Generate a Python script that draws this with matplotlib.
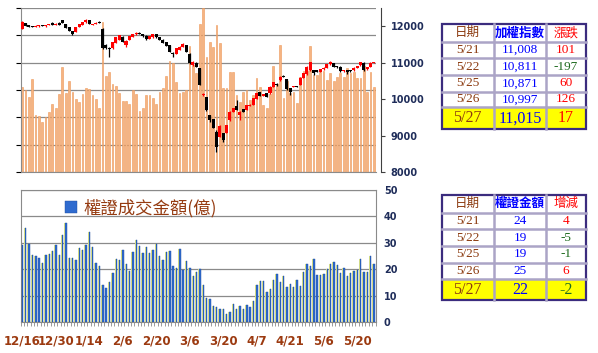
import numpy as np
import matplotlib.pyplot as plt
from matplotlib.patches import Rectangle
from matplotlib.lines import Line2D

plt.rcParams['font.family'] = ['DejaVu Sans']
CJK = ['Noto Sans CJK TC', 'DejaVu Sans']
SERIF = ['Liberation Serif', 'Noto Sans CJK TC']

# x axis labels (every 10 sessions)
tick_pos = [0, 10, 20, 30, 40, 50, 60, 70, 80, 90, 100]
tick_lab = ['12/16', '12/30', '1/14', '2/6', '2/20', '3/6', '3/20', '4/7', '4/21', '5/6', '5/20']

# TAIEX turnover (億), orange bars in the top panel
tw_vol = [1561, 1500, 1378, 1701, 1043, 1030, 909, 1006, 1092, 1250,
          1177, 1433, 1927, 1445, 1665, 1470, 1329, 1281, 1421, 1531,
          1518, 1409, 1329, 1165, 2750, 1763, 1836, 1610, 1573, 1451,
          1299, 1305, 1238, 1494, 1421, 1116, 1165, 1409, 1409, 1348,
          1244, 1470, 1531, 1762, 2031, 2000, 1640, 1439, 1470, 1500,
          2311, 1957, 1805, 2701, 2994, 2110, 2372, 2281, 2689, 2354,
          1531, 1543, 1836, 1836, 1409, 1287, 1470, 1500, 1317, 1409,
          1726, 1561, 1226, 1165, 1421, 1939, 1604, 2323, 1360, 1665,
          1439, 1457, 1256, 1744, 1848, 1848, 2311, 1774, 1774, 1835,
          1848, 1683, 1805, 1665, 1744, 1805, 1744, 1909, 1805, 1835,
          1726, 1726, 1945, 1470, 1835, 1561]

# TAIEX daily candles
idx_open = [11936, 12092, 12028, 12005, 11990, 12000, 12030, 12000, 12040, 12100,
            12030, 12100, 12165, 12055, 11970, 11870, 11845, 11980, 12040, 12110,
            12160, 12030, 12060, 12120, 11936, 11480, 11400, 11390, 11540, 11620,
            11710, 11480, 11620, 11710, 11780, 11820, 11790, 11740, 11650, 11700,
            11790, 11700, 11630, 11560, 11480, 11260, 11250, 11350, 11440, 11480,
            11250, 10930, 11000, 10840, 10100, 10060, 9560, 9450, 9104, 8967,
            9066, 9077, 9425, 9652, 9808, 9561, 9726, 9699, 9820, 9836,
            10010, 10183, 10090, 10156, 10156, 10338, 10410, 10521, 10640, 10548,
            10293, 10330, 10350, 10384, 10585, 10676, 10795, 10795, 10790, 10749,
            10813, 10859, 10950, 10978, 10900, 10886, 10767, 10795, 10790, 10795,
            10859, 10930, 11000, 10820, 10880, 10990]
idx_close = [12119, 12010, 11990, 11985, 12019, 12020, 12005, 12030, 12060, 12040,
             12065, 12040, 12090, 11960, 11880, 11800, 11980, 12050, 12110, 12180,
             12060, 12060, 12100, 12100, 11390, 11400, 11388, 11570, 11700, 11750,
             11570, 11600, 11720, 11790, 11810, 11790, 11726, 11640, 11726, 11790,
             11700, 11620, 11540, 11470, 11300, 11245, 11390, 11440, 11525, 11300,
             10980, 11020, 10880, 10400, 10130, 9700, 9430, 9220, 8693, 9258,
             8877, 9288, 9652, 9753, 9699, 9652, 9652, 9836, 9840, 10019,
             10160, 10090, 10130, 10064, 10338, 10457, 10384, 10612, 10612, 10274,
             10183, 10345, 10338, 10585, 10704, 10886, 11005, 10704, 10749, 10813,
             10859, 10950, 11023, 10886, 10870, 10767, 10800, 10749, 10760, 10860,
             10907, 11008, 10811, 10871, 10997, 11015]
idx_high = [12130, 12100, 12040, 12015, 12030, 12030, 12040, 12040, 12070, 12110,
            12075, 12110, 12175, 12070, 11980, 11880, 11990, 12060, 12120, 12190,
            12170, 12070, 12110, 12130, 11950, 11500, 11420, 11580, 11710, 11760,
            11720, 11610, 11730, 11800, 11830, 11830, 11800, 11750, 11735, 11800,
            11800, 11710, 11640, 11570, 11490, 11290, 11400, 11450, 11535, 11490,
            11260, 11041, 11010, 10850, 10160, 10070, 9570, 9460, 9150, 9300,
            9080, 9300, 9665, 9765, 9973, 9665, 9740, 9850, 9855, 10030,
            10175, 10195, 10140, 10170, 10350, 10470, 10440, 10625, 10655, 10560,
            10305, 10360, 10365, 10595, 10715, 10900, 11020, 10810, 10800, 10825,
            10870, 10960, 11035, 10990, 10910, 10895, 10810, 10805, 10800, 10870,
            10920, 11020, 11010, 10885, 11010, 11030]
idx_low = [11925, 12000, 11980, 11975, 11980, 11990, 11995, 11990, 12030, 12030,
           12020, 12030, 12080, 11950, 11870, 11772, 11835, 11970, 12030, 12100,
           12050, 12020, 12050, 12090, 11380, 11380, 11150, 11380, 11530, 11610,
           11560, 11430, 11610, 11700, 11770, 11780, 11715, 11630, 11640, 11690,
           11690, 11610, 11530, 11460, 11290, 11160, 11240, 11340, 11430, 11290,
           10970, 10900, 10870, 10380, 10080, 9680, 9380, 9200, 8556, 8950,
           8820, 9060, 9410, 9640, 9690, 9430, 9640, 9690, 9800, 9825,
           10000, 10080, 10080, 10050, 10145, 10325, 10370, 10510, 10600, 10260,
           10120, 10320, 10325, 10375, 10575, 10665, 10785, 10660, 10740, 10740,
           10805, 10850, 10940, 10875, 10860, 10755, 10755, 10700, 10750, 10785,
           10850, 10920, 10780, 10810, 10870, 10980]

# warrant turnover (億), bottom panel
wt_amt = [29, 35.5, 29.7, 25.3, 24.9, 24.2, 22.5, 25.3, 25.8, 26.9,
          29, 25.4, 32.8, 37.6, 24.2, 24.2, 23.5, 28.2, 27.4, 29,
          34, 28.4, 22.3, 21.2, 14, 12.8, 15.2, 18.4, 23.9, 23.6,
          27.1, 22, 19.3, 26.5, 31.2, 28.8, 26.3, 28.4, 26.1, 27.4,
          29.7, 24.9, 23.5, 26.5, 27, 21.1, 20.5, 27.7, 19.7, 23,
          20.3, 17.5, 18.9, 20.2, 13.9, 9, 8.7, 6.1, 5.8, 5.1,
          5.1, 3, 3.9, 6.7, 4.8, 6.2, 5.1, 6.4, 5.6, 8,
          14, 15.7, 15.5, 11.4, 12.4, 15.8, 18.3, 15.2, 17.6, 13.3,
          14.3, 13.3, 15.8, 13.6, 18.8, 21.8, 21.1, 23.7, 17.7, 17.7,
          18.1, 20, 21.8, 22.9, 21.5, 18.4, 20.6, 17.3, 18.6, 19.2,
          19.6, 24, 19, 19, 25, 22]

# side tables
tab_dates = ['5/21', '5/22', '5/25', '5/26', '5/27']
tab1_idx = [11008, 10811, 10871, 10997, 11015]
tab1_chg = [101, -197, 60, 126, 17]
tab2_amt = [24, 19, 19, 25, 22]
tab2_chg = [4, -5, -1, 6, -2]

W_PX, H_PX = 598, 353
fig = plt.figure(figsize=(W_PX / 100, H_PX / 100), dpi=100)

x = np.arange(len(idx_close))
L, W = 20.5 / W_PX, 355 / W_PX
GRAY = '#8a8a8a'

# ---- top panel: turnover bars + candles
ax1 = fig.add_axes([L, 1 - 172 / H_PX, W, 164 / H_PX])
ax1.bar(x, tw_vol, width=0.52, color='#F5B482', edgecolor='#EE9859', linewidth=0.4, zorder=2)
ax1.set_xlim(-0.5, len(x) - 0.5)
ax1.set_ylim(0, 3000)
ax1.set_yticks(range(0, 3001, 500))
ax1.yaxis.grid(True, color=GRAY, lw=0.9)
ax1.set_axisbelow(True)
ax1.tick_params(left=False, labelleft=False, bottom=False, labelbottom=False)
for s in ['top', 'right']:
    ax1.spines[s].set_visible(False)
for s in ['left', 'bottom']:
    ax1.spines[s].set_color(GRAY)

axk = ax1.twinx()
o = np.array(idx_open)
c = np.array(idx_close)
col = np.where(c >= o, '#FF0000', '#000000')
axk.vlines(x, idx_low, idx_high, colors=col, lw=0.9, zorder=3)
body = np.maximum(np.abs(c - o), 30)
axk.bar(x, body, bottom=np.minimum(o, c) - (body - np.abs(c - o)) / 2, width=0.9,
        color=col, zorder=4)
axk.set_ylim(8000, 12500)
axk.set_yticks([8000, 9000, 10000, 11000, 12000])
axk.set_xlim(-0.5, len(x) - 0.5)
for s in ['top', 'left', 'bottom']:
    axk.spines[s].set_visible(False)
axk.spines['right'].set_position(('outward', 4))
axk.spines['right'].set_color('#404040')
axk.tick_params(axis='y', length=3, width=0.8, color='#404040', labelsize=7,
                labelcolor='#1F2D5A', pad=4)
for t in axk.get_yticklabels():
    t.set_fontweight('bold')

# ---- bottom panel: warrant turnover
ax2 = fig.add_axes([L, 1 - 322 / H_PX, W, 132 / H_PX])
ax2.bar(x - 0.2, wt_amt, width=0.42, color='#FFFF80', zorder=2)
ax2.bar(x + 0.08, wt_amt, width=0.42, color='#2F6BCF', edgecolor='#1D4C9E',
        linewidth=0.3, zorder=3, label='權證成交金額(億)')
ax2.set_xlim(-0.5, len(x) - 0.5)
ax2.set_ylim(0, 50)
ax2.set_yticks(range(0, 51, 10))
ax2.yaxis.grid(True, color=GRAY, lw=0.9)
ax2.set_axisbelow(True)
ax2.yaxis.tick_right()
ax2.tick_params(axis='y', length=0, labelsize=7, labelcolor='#1F2D5A', pad=6)
for t in ax2.get_yticklabels():
    t.set_fontweight('bold')
for s in ax2.spines.values():
    s.set_color(GRAY)
ax2.set_xticks(tick_pos)
ax2.set_xticklabels(tick_lab, fontsize=8.5, fontweight='bold', color='#9C3A10')
ax2.set_xticks(np.arange(-0.5, len(x), 1), minor=True)
ax2.tick_params(axis='x', which='major', length=0, pad=9)
ax2.tick_params(axis='x', which='minor', length=3, color=GRAY, width=0.6)
ax2.legend(loc='upper left', bbox_to_anchor=(0.1, 1.0), borderaxespad=0.1,
           frameon=False, handlelength=0.7, handleheight=0.7, handletextpad=0.4,
           prop={'family': CJK, 'size': 12.5}, labelcolor='#953A10')


# ---- tables drawn in pixel coordinates
def fx(px):
    return px / W_PX


def fy(py):
    return 1 - py / H_PX


def draw_table(row_edges, headers, head_cols, col2, col3):
    xe = [441.5, 494, 546, 586]
    top, bot = row_edges[0], row_edges[-1]
    fig.add_artist(Rectangle((fx(xe[0]), fy(bot)), fx(xe[-1]) - fx(xe[0]), fy(top) - fy(bot),
                             transform=fig.transFigure, facecolor='white', edgecolor='none'))
    ytop = row_edges[-2]
    fig.add_artist(Rectangle((fx(xe[0]), fy(bot)), fx(xe[-1]) - fx(xe[0]), fy(ytop) - fy(bot),
                             transform=fig.transFigure, facecolor='#FFFF00', edgecolor='none'))
    for yy in row_edges[1:-1]:
        fig.add_artist(Line2D([fx(xe[0]), fx(xe[-1])], [fy(yy), fy(yy)],
                              transform=fig.transFigure, color='#ABA4C6', lw=1.8))
    for xx in xe[1:-1]:
        fig.add_artist(Line2D([fx(xx), fx(xx)], [fy(top), fy(bot)],
                              transform=fig.transFigure, color='#ABA4C6', lw=1.8))
    fig.add_artist(Rectangle((fx(xe[0]), fy(bot)), fx(xe[-1]) - fx(xe[0]), fy(top) - fy(bot),
                             transform=fig.transFigure, facecolor='none',
                             edgecolor='#3B2C7E', lw=1.6))
    cx = [(xe[i] + xe[i + 1]) / 2 for i in range(3)]
    hy = (row_edges[0] + row_edges[1]) / 2
    for j in range(3):
        fig.text(fx(cx[j]), fy(hy), headers[j], ha='center', va='center', fontsize=9,
                 color=head_cols[j], family=CJK, fontweight='bold' if j == 1 else 'normal')
    for i in range(5):
        ry = (row_edges[i + 1] + row_edges[i + 2]) / 2
        fs = 11.5 if i == 4 else 9.5
        chg = col3[i]
        fig.text(fx(cx[0]), fy(ry), tab_dates[i], ha='center', va='center', fontsize=fs,
                 color='#8B3A0F', family=SERIF)
        fig.text(fx(cx[1]), fy(ry), col2[i], ha='center', va='center', fontsize=fs,
                 color='#0000FF', family=SERIF)
        fig.text(fx(cx[2]), fy(ry), str(chg), ha='center', va='center', fontsize=fs,
                 color='#FF0000' if chg > 0 else '#1E6B1E', family=SERIF)


draw_table([24, 41.7, 58.3, 75, 91.7, 107.3, 129],
           ['日期', '加權指數', '漲跌'], ['#8B3A0F', '#0000FF', '#FF0000'],
           ['{:,}'.format(v) for v in tab1_idx], tab1_chg)
draw_table([195, 212.7, 229.3, 246, 262.7, 279, 300],
           ['日期', '權證金額', '增減'], ['#8B3A0F', '#0000FF', '#FF0000'],
           [str(v) for v in tab2_amt], tab2_chg)

fig.savefig('out.png', dpi=100)
